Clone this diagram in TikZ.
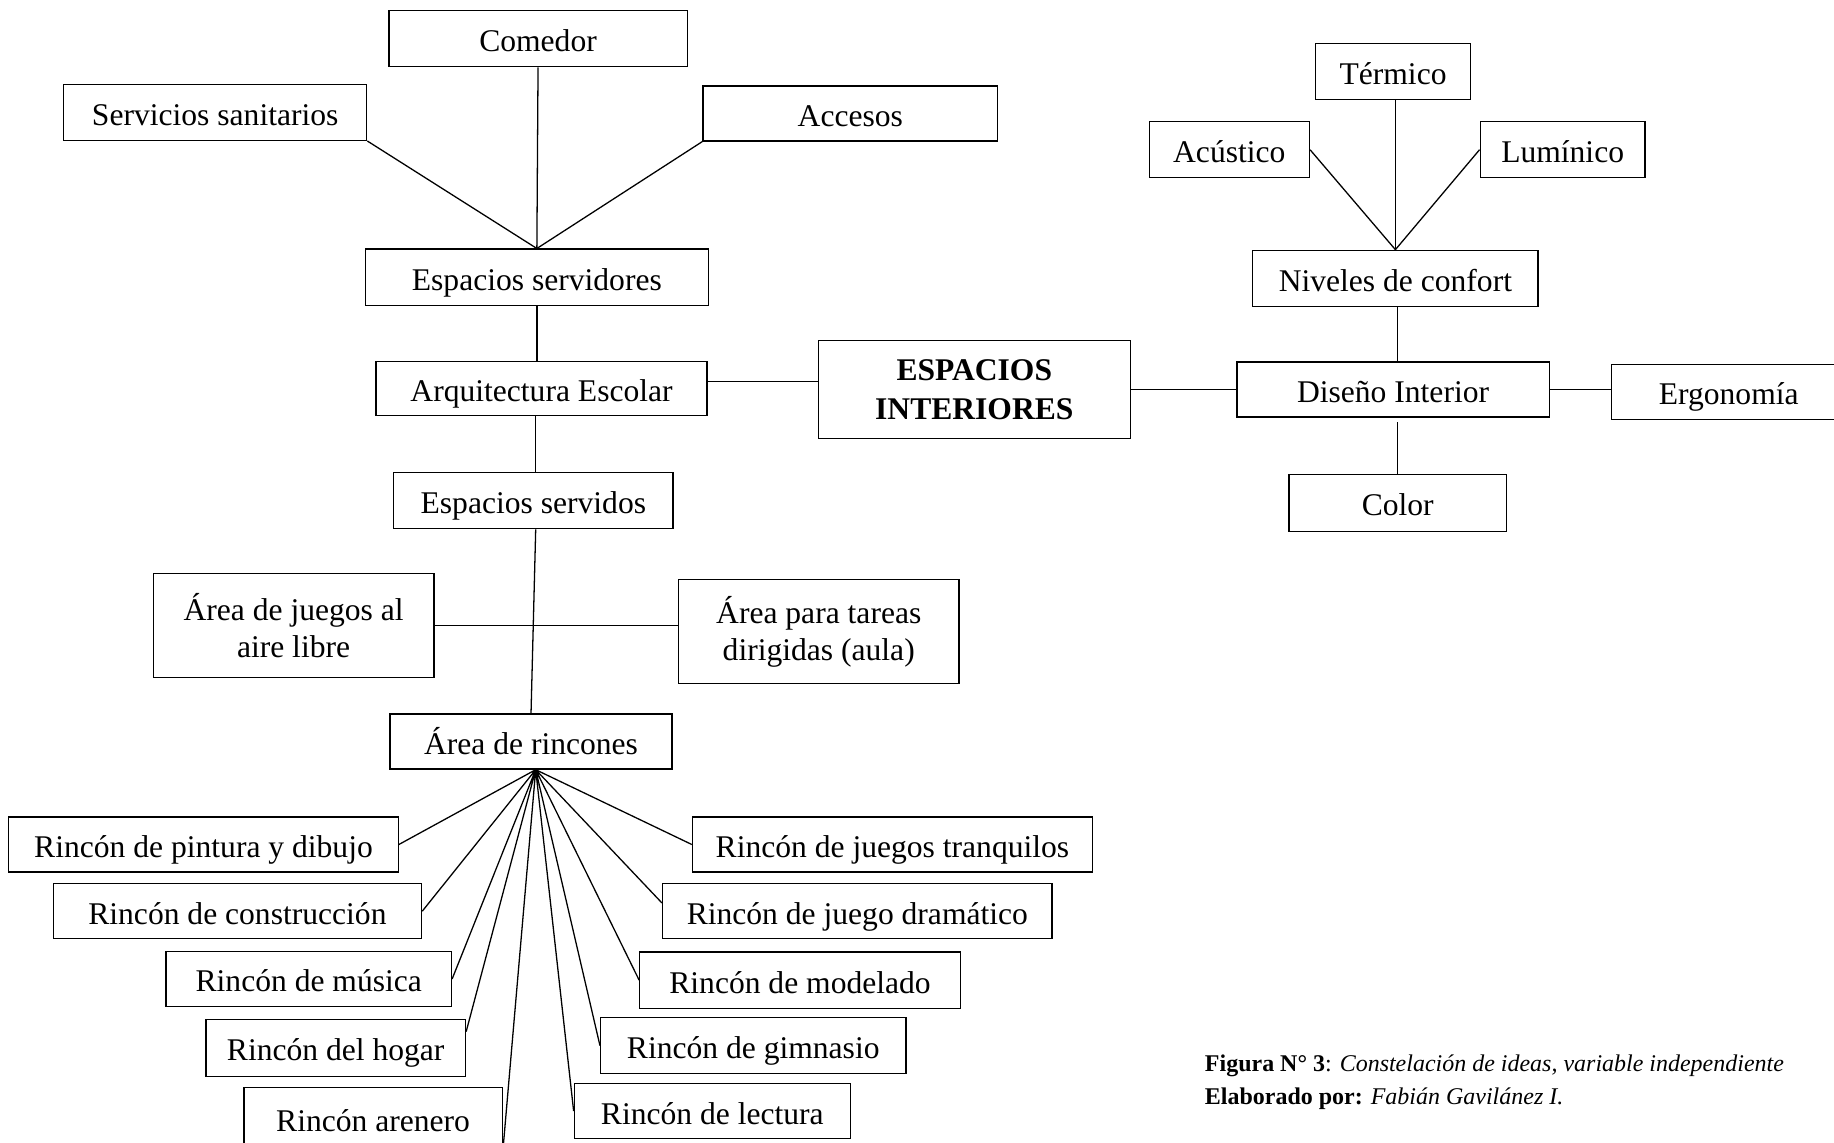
\documentclass[tikz,border=0pt]{standalone}
\usepackage{fontspec}
\setmainfont{Liberation Serif}
\usetikzlibrary{calc}

\tikzset{
  caja/.style={draw, line width=1.1pt, inner sep=0pt, align=center,
    font=\fontsize{27}{32}\selectfont},
  unalinea/.style={caja, text height=25pt, text depth=3pt},
  linea/.style={line width=1.1pt}
}

\begin{document}
\begin{tikzpicture}[x=1pt,y=-1pt]
        \useasboundingbox (0,0) rectangle (1568,977);
        % espacios servidores
        \node[unalinea, minimum width=255, minimum height=48] (comedor) at (460,33) {Comedor};
        \node[unalinea, minimum width=259, minimum height=48] (sanitarios) at (184,96) {Servicios sanitarios};
        \node[unalinea, minimum width=252, minimum height=47] (accesos) at (727,97) {Accesos};
        \node[unalinea, minimum width=293, minimum height=48] (servidores) at (459,237) {Espacios servidores};
        \node[unalinea, minimum width=283, minimum height=46] (arquitectura) at (463,332) {Arquitectura Escolar};
        \node[caja, minimum width=267, minimum height=84, font=\bfseries\fontsize{27}{33}\selectfont] (espacios) at (833,333) {ESPACIOS\\INTERIORES};
        % espacios servidos
        \node[unalinea, minimum width=239, minimum height=48] (servidos) at (456,428) {Espacios servidos};
        \node[caja, minimum width=240, minimum height=89] (juegos) at (251,535) {Área de juegos al\\aire libre};
        \node[caja, minimum width=240, minimum height=89] (tareas) at (700,540) {Área para tareas\\dirigidas (aula)};
        \node[unalinea, minimum width=241, minimum height=47] (rincones) at (454,634) {Área de rincones};
        \node[unalinea, minimum width=333, minimum height=47] (pintura) at (174,722) {Rincón de pintura y dibujo};
        \node[unalinea, minimum width=315, minimum height=47] (construccion) at (203,779) {Rincón de construcción};
        \node[unalinea, minimum width=244, minimum height=47] (musica) at (264,837) {Rincón de música};
        \node[unalinea, minimum width=222, minimum height=49] (hogar) at (287,896) {Rincón del hogar};
        \node[unalinea, minimum width=221, minimum height=52] (arenero) at (319,956) {Rincón arenero};
        \node[unalinea, minimum width=342, minimum height=47] (tranquilos) at (763,722) {Rincón de juegos tranquilos};
        \node[unalinea, minimum width=333, minimum height=47] (dramatico) at (733,779) {Rincón de juego dramático};
        \node[unalinea, minimum width=274, minimum height=48] (modelado) at (684,838) {Rincón de modelado};
        \node[unalinea, minimum width=261, minimum height=48] (gimnasio) at (644,894) {Rincón de gimnasio};
        \node[unalinea, minimum width=236, minimum height=47] (lectura) at (609,950) {Rincón de lectura};
        % diseno interior
        \node[unalinea, minimum width=133, minimum height=48] (termico) at (1191,61) {Térmico};
        \node[unalinea, minimum width=137, minimum height=48] (acustico) at (1051,128) {Acústico};
        \node[unalinea, minimum width=141, minimum height=48] (luminico) at (1336,128) {Lumínico};
        \node[unalinea, minimum width=244, minimum height=48] (niveles) at (1193,238) {Niveles de confort};
        \node[unalinea, minimum width=267, minimum height=47] (diseno) at (1191,333) {Diseño Interior};
        \node[unalinea, minimum width=200, minimum height=47] (ergonomia) at (1478,335) {Ergonomía};
        \node[unalinea, minimum width=186, minimum height=49] (color) at (1195,430) {Color};
        % pie de figura
        \node[anchor=west, inner sep=0pt, font=\fontsize{20.5}{24}\selectfont] (figura) at (1030,911) {\textbf{Figura N° 3}: \textit{Constelación de ideas, variable independiente}};
        \node[anchor=west, inner sep=0pt, font=\fontsize{20.5}{24}\selectfont] (autor) at (1030,939) {\textbf{Elaborado por:} \textit{Fabián Gavilánez I.}};

        \draw[linea] (comedor.south) -- (servidores.north);
        \draw[linea] (sanitarios.south east) -- (servidores.north) -- (accesos.south west);
        \draw[linea] (servidores.south) -- (arquitectura.north -| servidores.south);
        \draw[linea] ([yshift=6]arquitectura.east) -- ([yshift=6]arquitectura.east -| espacios.west);
        \draw[linea] (espacios.east) -- (espacios.east -| diseno.west);
        \draw[linea] (diseno.east) -- (diseno.east -| ergonomia.west);
        \draw[linea] (termico.south -| niveles.north) -- (niveles.north);
        \draw[linea] (acustico.east) -- (niveles.north) -- (luminico.west);
        \draw[linea] ([xshift=2]niveles.south) -- ([xshift=2]niveles.south |- diseno.north);
        \draw[linea] ([yshift=-4]diseno.south -| color.north) -- (color.north);
        \draw[linea] ([xshift=-5]arquitectura.south) -- ([xshift=-5]arquitectura.south |- servidos.north);
        \draw[linea] ([xshift=2]servidos.south) -- (rincones.north);
        \draw[linea] (juegos.east) -- (juegos.east -| tareas.west);
        \draw[linea] ([xshift=4]rincones.south) -- (pintura.east)
          ([xshift=4]rincones.south) -- (construccion.east)
          ([xshift=4]rincones.south) -- (musica.east)
          ([xshift=4]rincones.south) -- ([yshift=14]hogar.east)
          ([xshift=4]rincones.south) -- (arenero.south east)
          ([xshift=4]rincones.south) -- (tranquilos.west)
          ([xshift=4]rincones.south) -- ([yshift=7]dramatico.west)
          ([xshift=4]rincones.south) -- (modelado.west)
          ([xshift=4]rincones.south) -- (gimnasio.west)
          ([xshift=4]rincones.south) -- (lectura.west);
    \end{tikzpicture}
\end{document}
